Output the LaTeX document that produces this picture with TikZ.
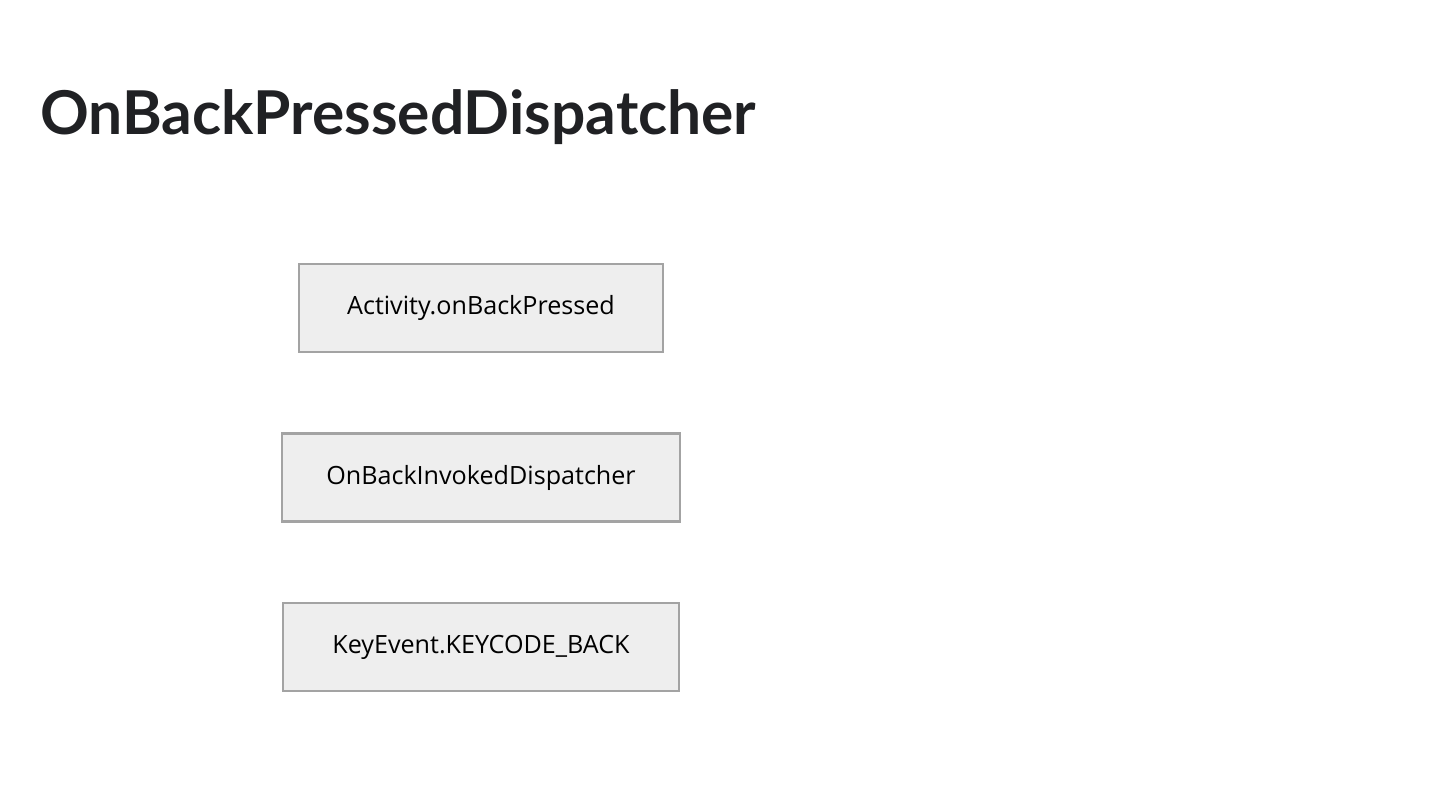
\documentclass[tikz,border=0pt]{standalone}
\usepackage{fontspec}
\setmainfont{Open Sans}
\newfontfamily\titlefont{Lato}
\usepackage{tikz}

\definecolor{boxfill}{HTML}{EEEEEE}
\definecolor{boxline}{HTML}{A3A3A3}
\definecolor{titlegray}{HTML}{202124}

\tikzset{
    callbox/.style={draw=boxline,fill=boxfill,line width=1.2pt,
        minimum height=1.76cm,inner sep=0pt,text depth=0.6ex,
        font=\fontsize{14.3}{16}\selectfont}
}

\begin{document}
\begin{tikzpicture}
            \useasboundingbox (0,0) rectangle (28.8,16.2);
            \node [anchor=base west,text=titlegray,inner sep=0pt,font=\titlefont\bfseries\fontsize{34.4}{40}\selectfont] (title) at (0.8,13.5) {OnBackPressedDispatcher};
            \node [callbox,minimum width=7.28cm] (activity) at (9.62,10.04) {Activity.onBackPressed};
            \node [callbox,minimum width=7.96cm] (invoked) at (9.62,6.65) {OnBackInvokedDispatcher};
            \node [callbox,minimum width=7.92cm] (keyevent) at (9.62,3.26) {KeyEvent.KEYCODE\_BACK};
        \end{tikzpicture}
\end{document}
